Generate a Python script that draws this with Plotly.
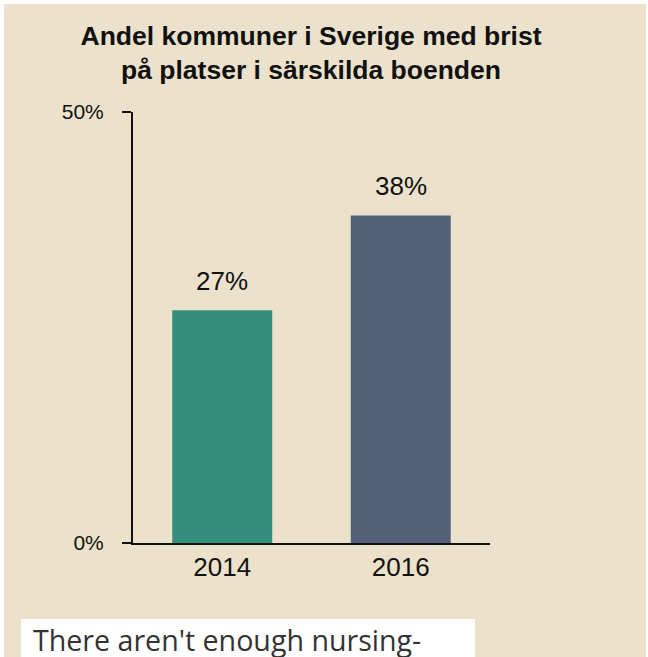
import plotly.graph_objects as go

categories = ["2014", "2016"]
values = [27, 38]
bar_colors = ["#338E7B", "#536178"]
y_tick_vals = [0, 50]
y_tick_text = ["0%", "50%"]
title_lines = ["Andel kommuner i Sverige med brist", "på platser i särskilda boenden"]
caption = "There aren't enough nursing-"

W, H = 648, 657
L, R, T, B = 133, 490, 112, 543
BG = "#ECE2CB"


def px(x):
    return (x - L) / (R - L)


def py(y):
    return (B - y) / (B - T)


fig = go.Figure()
fig.add_trace(go.Bar(
    x=categories, y=values, marker=dict(color=bar_colors, line=dict(width=0)),
    width=0.56, hoverinfo="skip",
))

annotations = []
for i, v in enumerate(values):
    annotations.append(dict(
        x=i, y=v, xref="x", yref="y", text=f"{v}%", showarrow=False,
        yanchor="bottom", yshift=12,
        font=dict(family="Liberation Sans, Arial", size=26, color="#111111"),
    ))

annotations.append(dict(
    x=px(31), y=py(618), xref="paper", yref="paper", text=caption,
    showarrow=False, xanchor="left", yanchor="top",
    font=dict(family="Open Sans", size=28.6, color="#333333"),
))

shapes = [
    dict(type="rect", xref="paper", yref="paper", x0=px(0), x1=px(W), y0=py(0), y1=py(4),
         fillcolor="white", line=dict(width=0), layer="below"),
    dict(type="rect", xref="paper", yref="paper", x0=px(0), x1=px(4), y0=py(0), y1=py(H),
         fillcolor="white", line=dict(width=0), layer="below"),
    dict(type="rect", xref="paper", yref="paper", x0=px(646), x1=px(W), y0=py(0), y1=py(H),
         fillcolor="white", line=dict(width=0), layer="below"),
    dict(type="rect", xref="paper", yref="paper", x0=px(21), x1=px(475), y0=py(619), y1=py(H + 2),
         fillcolor="white", line=dict(width=0), layer="below"),
]

fig.update_layout(
    width=W, height=H,
    margin=dict(l=L, r=W - R, t=T, b=H - B, pad=0),
    paper_bgcolor=BG, plot_bgcolor="rgba(0,0,0,0)",
    showlegend=False,
    title=dict(
        text="<br>".join(title_lines), x=311 / W, xanchor="center",
        xref="container", yref="container", y=1 - 45 / H, yanchor="top",
        font=dict(family="Liberation Sans, Arial", size=26.5, color="#111111", weight="bold"),
    ),
    xaxis=dict(
        type="category",
        range=[-0.5, 1.5], showline=True, linecolor="#111111", linewidth=2,
        ticks="", showgrid=False, zeroline=False,
        tickfont=dict(family="Liberation Sans, Arial", size=26, color="#111111"),
    ),
    yaxis=dict(
        range=[0, 50], showline=True, linecolor="#111111", linewidth=2,
        ticks="outside", ticklen=9, tickwidth=2, tickcolor="#111111",
        tickvals=y_tick_vals, ticktext=y_tick_text, ticklabelstandoff=14,
        showgrid=False, zeroline=False,
        tickfont=dict(family="Liberation Sans, Arial", size=21, color="#111111"),
    ),
    annotations=annotations, shapes=shapes,
)

fig.write_html("out.html", config={"displayModeBar": False},
               post_script="document.body.style.margin='0px';")
